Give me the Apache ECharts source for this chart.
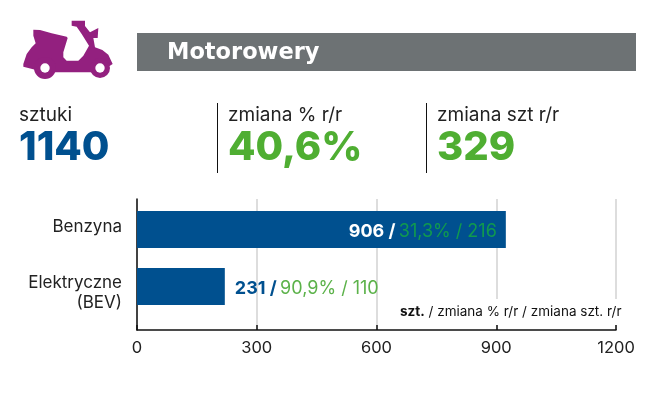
<!DOCTYPE html>
<html><head><meta charset="utf-8">
<style>html,body{margin:0;padding:0;background:#fff}#c{width:661px;height:393px}</style>
<script src="https://cdn.jsdelivr.net/npm/echarts@6/dist/echarts.min.js"></script>
</head><body><div id="c"></div>
<script>
const categories = ['Benzyna', 'Elektryczne\n(BEV)'];
const barValues = [924, 220];
const unitLabels = ['906', '231'];
const pctLabels = ['31,3%', '90,9%'];
const changeLabels = ['216', '110'];
const xTicks = [0, 300, 600, 900, 1200];
const title = 'Motorowery';
const kpiTitles = ['sztuki', 'zmiana % r/r', 'zmiana szt r/r'];
const kpiValues = ['1140', '40,6%', '329'];

const FONT = 'Inter, "Open Sans", sans-serif';
const WIDE = '"DejaVu Sans", sans-serif';
const BLUE = '#00508f', GREEN = '#4fae32', PURPLE = '#93207f', GREY = '#6d7274';

const scooter = [[55,47],[75,48],[110,58],[155,68],[158,72],[145,115],[145,130],[155,140],[190,140],[205,125],[222,95],[200,60],[185,38],[170,35],[170,20],[210,20],[210,36],[225,55],[250,42],[248,72],[235,72],[240,100],[262,108],[280,122],[293,150],[280,158],[255,175],[90,175],[25,158],[25,150],[35,120],[50,100],[62,88],[55,65]];

const chart = echarts.init(document.getElementById('c'));
function txt(x, y, text, size, weight, fill, font) {
  return {type:'text', x, y, z:10, style:{text, font:`${weight} ${size}px ${font||FONT}`, fill, textVerticalAlign:'middle'}};
}
const AXIS_LINE = {lineStyle:{color:'#111', width:1.5}};
chart.setOption({
  animation:false,
  grid:[
    {left:137, width:479, top:199, height:131, show:false},
    {left:137, width:479, top:201, height:114, show:false}
  ],
  xAxis:[
    {gridIndex:0, type:'value', min:0, max:1200, interval:300,
     axisLine:{show:true, ...AXIS_LINE}, axisTick:{show:true, inside:true, length:5, lineStyle:{color:'#111', width:1.5}},
     splitLine:{show:true, lineStyle:{color:'#d2d2d2', width:1.5}},
     axisLabel:{color:'#222', fontFamily:FONT, fontSize:16.5, margin:10,
       formatter:v => String(xTicks[xTicks.indexOf(v)])}},
    {gridIndex:1, type:'value', min:0, max:1200, show:false}
  ],
  yAxis:[
    {gridIndex:0, type:'category', data:[''], axisLine:{show:true, ...AXIS_LINE}, axisTick:{show:false}, axisLabel:{show:false}},
    {gridIndex:1, type:'category', inverse:true, data:categories,
     axisLine:{show:false}, axisTick:{show:false},
     axisLabel:{margin:15, align:'right',
       formatter:(v,i)=> i===0
         ? `{t|${v}}\n{g0| }`
         : `{g1| }\n` + v.split('\n').map(s=>`{t|${s}}`).join('\n'),
       rich:{
         t:{color:'#222', fontFamily:FONT, fontSize:17, lineHeight:20, align:'right'},
         g0:{fontSize:4, lineHeight:5},
         g1:{fontSize:10, lineHeight:13}
       }}}
  ],
  series:[{
    type:'bar', xAxisIndex:1, yAxisIndex:1, barWidth:37, z:3,
    itemStyle:{color:BLUE},
    data:barValues.map((v,i)=>({value:v, label:{
      show:true, position:i===0?'insideRight':'right', distance:i===0?9:10, offset:[0,2],
      formatter:`{a|${unitLabels[i]} /} {b|${pctLabels[i]} / ${changeLabels[i]}}`,
      rich:{
        a:{color:i===0?'#fff':BLUE, fontFamily:FONT, fontWeight:700, fontSize:18},
        b:{color:i===0?'#109a4e':'#5cb24a', fontFamily:FONT, fontWeight:400, fontSize:18}
      }
    }}))
  }],
  graphic:[
    {type:'rect', z:5, shape:{x:137,y:33,width:499,height:38}, style:{fill:GREY}},
    txt(167,53,title,22.5,700,'#fff',WIDE),
    {type:'polygon', z:5, x:15, y:14, scaleX:1/3, scaleY:1/3, shape:{points:scooter}, style:{fill:PURPLE}},
    {type:'circle', z:5, shape:{cx:45,cy:68,r:11}, style:{fill:PURPLE}},
    {type:'circle', z:5, shape:{cx:100,cy:68,r:10}, style:{fill:PURPLE}},
    {type:'circle', z:6, shape:{cx:45,cy:68,r:4.7}, style:{fill:'#fff'}},
    {type:'circle', z:6, shape:{cx:100,cy:68,r:4.7}, style:{fill:'#fff'}},
    {type:'line', z:5, shape:{x1:217.5,y1:103,x2:217.5,y2:173}, style:{stroke:'#111',lineWidth:1}},
    {type:'line', z:5, shape:{x1:426.5,y1:103,x2:426.5,y2:173}, style:{stroke:'#111',lineWidth:1}},
    txt(19,115,kpiTitles[0],19,400,'#222'),
    txt(228,115,kpiTitles[1],19,400,'#222'),
    txt(437,115,kpiTitles[2],19,400,'#222'),
    txt(19,148,kpiValues[0],40,800,BLUE),
    txt(228,148,kpiValues[1],40,800,GREEN),
    txt(437,148,kpiValues[2],40,800,GREEN),
    {type:'rect', z:7, shape:{x:378,y:299,width:247,height:26}, style:{fill:'#fff'}},
    {type:'text', x:400, y:312, z:8, style:{
      text:'{a|szt.}{b| / zmiana % r/r / zmiana szt. r/r}',
      textVerticalAlign:'middle',
      rich:{a:{font:`700 13.5px ${FONT}`, fill:'#111'}, b:{font:`400 13.5px ${FONT}`, fill:'#111'}}}}
  ]
});
</script></body></html>
